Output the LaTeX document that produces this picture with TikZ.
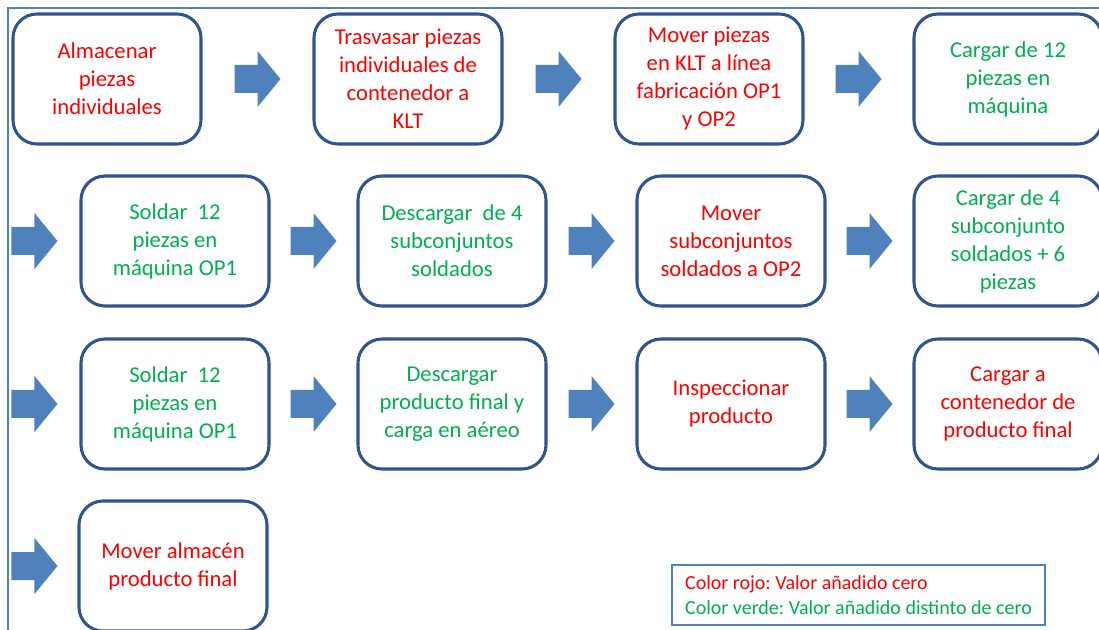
\documentclass[tikz,border=0pt]{standalone}
\usepackage{fontspec}
\setmainfont{Carlito}
\usetikzlibrary{calc}
\definecolor{boxblue}{HTML}{2F5490}
\definecolor{arrowblue}{HTML}{4F81BD}
\definecolor{redtxt}{HTML}{FF0000}
\definecolor{greentxt}{HTML}{00B050}
\frenchspacing

\begin{document}
\begin{tikzpicture}[x=0.75pt,y=-0.75pt,
  stepbox/.style={draw=boxblue, line width=2.3pt, rounded corners=18pt,
    minimum width=141pt, minimum height=97.5pt, align=center,
    font=\fontsize{17}{21}\selectfont, inner sep=2pt, fill=white},
  zero/.style={stepbox, text=redtxt},
  addval/.style={stepbox, text=greentxt},
  blockarrow/.pic={\fill[arrowblue] (-23,-14) -- (0,-14) -- (0,-28) -- (23,0)
    -- (0,28) -- (0,14) -- (-23,14) -- cycle;},
  legendbox/.style={draw=arrowblue, line width=1.1pt, minimum width=280pt,
    minimum height=45pt, align=left, inner xsep=9pt,
    font=\fontsize{15}{18.8}\selectfont}
]
\useasboundingbox (0,0) rectangle (1099,630);
\clip (0,0) rectangle (1099,630);

% outer frame (left and top edges)
\coordinate (fbl) at (8,631);
\coordinate (ftr) at (1100,8);
\draw[arrowblue, line width=1.5pt] (fbl) |- (ftr);

% row 1
\node[zero]   (s1) at (107,79)  {Almacenar\\piezas\\individuales};
\node[zero]   (s2) at (408,79)  {Trasvasar piezas\\individuales de\\contenedor a\\KLT};
\node[zero]   (s3) at (709,79)  {Mover piezas\\en KLT a línea\\fabricación OP1\\y OP2};
\node[addval] (s4) at (1008,79) {Cargar de 12\\piezas en\\máquina};

% row 2
\node[addval] (s5) at (175,241)  {Soldar\ \ 12\\piezas en\\máquina OP1};
\node[addval] (s6) at (452,241)  {Descargar\ \ de 4\\subconjuntos\\soldados};
\node[zero]   (s7) at (731,241)  {Mover\\subconjuntos\\soldados a OP2};
\node[addval] (s8) at (1008,241) {Cargar de 4\\subconjunto\\soldados + 6\\piezas};

% row 3
\node[addval] (s9)  at (175,404)  {Soldar\ \ 12\\piezas en\\máquina OP1};
\node[addval] (s10) at (452,404)  {Descargar\\producto final y\\carga en aéreo};
\node[zero]   (s11) at (731,404)  {Inspeccionar\\producto};
\node[zero]   (s12) at (1008,404) {Cargar a\\contenedor de\\producto final};

% row 4
\node[zero] (s13) at (173,566) {Mover almacén\\producto final};

% block arrows between steps
\pic at ($(s1.east)!0.5!(s2.west)$) {blockarrow};
\pic at ($(s2.east)!0.5!(s3.west)$) {blockarrow};
\pic at ($(s3.east)!0.5!(s4.west)$) {blockarrow};
\pic at ($(s5.west)+(-45,0)$) {blockarrow};
\pic at ($(s5.east)!0.5!(s6.west)$) {blockarrow};
\pic at ($(s6.east)!0.5!(s7.west)$) {blockarrow};
\pic at ($(s7.east)!0.5!(s8.west)$) {blockarrow};
\pic at ($(s9.west)+(-45,0)$) {blockarrow};
\pic at ($(s9.east)!0.5!(s10.west)$) {blockarrow};
\pic at ($(s10.east)!0.5!(s11.west)$) {blockarrow};
\pic at ($(s11.east)!0.5!(s12.west)$) {blockarrow};
\pic at ($(s13.west)+(-43,0)$) {blockarrow};

% legend
\node[legendbox] (legend) at (858.5,595)
  {\textcolor{redtxt}{Color rojo: Valor añadido cero}\\
   \textcolor{greentxt}{Color verde: Valor añadido distinto de cero}};
\end{tikzpicture}
\end{document}
